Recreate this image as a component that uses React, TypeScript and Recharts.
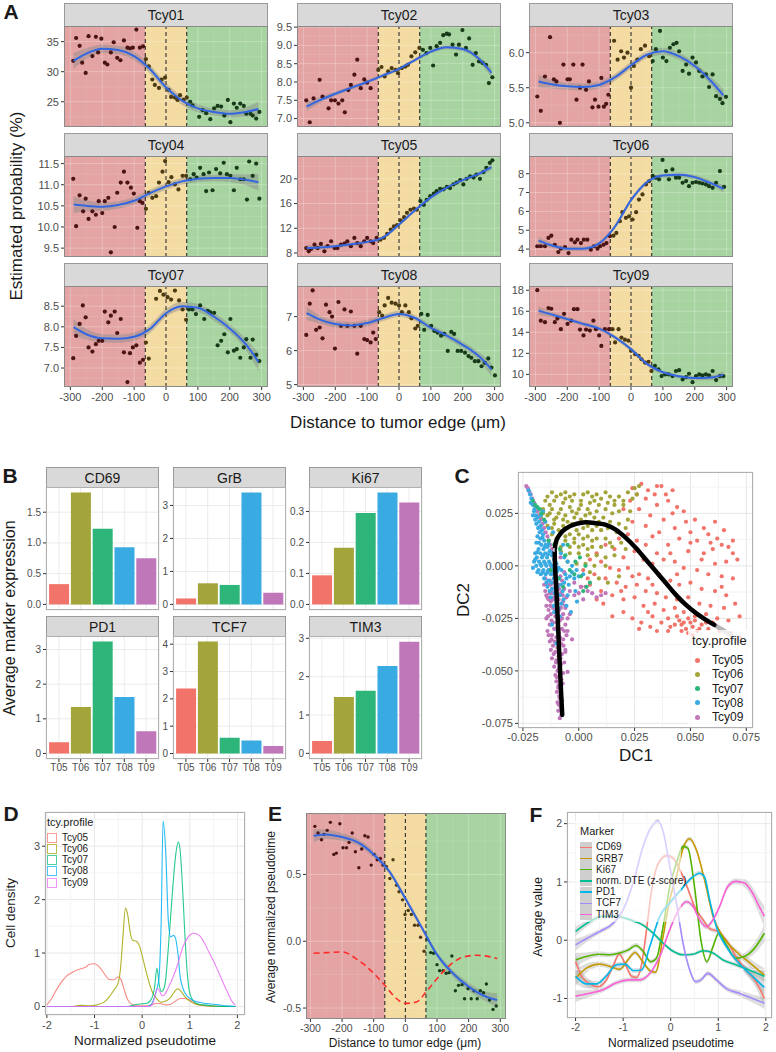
import React from "react";
import {
  ComposedChart,
  BarChart,
  Bar,
  Cell,
  Scatter,
  Line,
  Area,
  XAxis,
  YAxis,
  CartesianGrid,
  ReferenceArea,
  ReferenceLine,
} from "recharts";

type Pair = [number, number];
type Knot = [number, number, number];

const FONT = '"Liberation Sans", Arial, Helvetica, sans-serif';
const TICK = "#4d4d4d";
const BORDER = "#9a9a9a";
const HUE5 = ["#F8766D", "#A3A500", "#00BF7D", "#00B0F6", "#E76BF3"];
const MUTED5 = ["#F2736A", "#A3A43A", "#2DB57A", "#3AABE2", "#C077BA"];

// ---------- A: estimated probability vs distance ----------
const distanceTicks = [-300, -200, -100, 0, 100, 200, 300];
const fitDistances = [-290, -250, -200, -150, -100, -50, 0, 50, 100, 150, 200, 250, 290];

const tcy01Points: Pair[] = [[-291,31.8],[-282,35.6],[-271,34.3],[-263,31.5],[-252,29.8],[-243,35.9],[-231,32.6],[-220,35.8],[-213,33.2],[-203,35.5],[-192,31.5],[-184,31.2],[-173,33.2],[-164,34.9],[-153,32.3],[-143,31.9],[-132,35.2],[-121,34.0],[-113,33.9],[-104,34.0],[-93,37.0],[-82,34.0],[-72,34.2],[-63,32.1],[-54,30.9],[-43,28.7],[-35,27.8],[-22,27.3],[-14,28.7],[-3,29.0],[8,27.0],[16,25.8],[28,25.7],[36,25.3],[44,26.1],[55,25.3],[65,25.7],[76,25.0],[83,24.4],[104,22.5],[115,23.6],[126,23.1],[139,22.1],[151,23.9],[162,24.3],[173,24.2],[183,22.7],[194,25.3],[202,21.6],[213,24.7],[222,24.0],[233,24.7],[244,24.3],[252,23.0],[265,23.0],[272,22.7],[283,22.2],[293,23.3]];
const tcy01Fit = [31.8, 33.0, 33.8, 33.6, 32.6, 30.4, 27.4, 25.2, 23.9, 23.3, 23.0, 23.3, 23.8];
const tcy01Se = [1.3, 0.9, 0.7, 0.7, 0.7, 0.7, 0.7, 0.7, 0.7, 0.6, 0.6, 0.8, 1.2];

const tcy02Points: Pair[] = [[-291,7.5],[-280,6.9],[-268,7.55],[-249,8.06],[-240,7.6],[-221,7.28],[-213,7.5],[-201,7.5],[-190,7.41],[-178,7.5],[-170,7.17],[-159,7.78],[-151,7.92],[-140,8.2],[-131,8.61],[-120,7.83],[-109,8.07],[-100,7.98],[-89,7.83],[-65,8.33],[-55,8.41],[-45,8.15],[-34,8.29],[-23,8.38],[-11,8.33],[-3,8.24],[9,8.38],[20,8.42],[28,8.47],[39,8.7],[51,8.81],[64,8.93],[75,8.88],[86,8.79],[98,8.93],[107,8.45],[118,8.98],[129,9.07],[139,9.28],[150,9.32],[157,9.3],[168,9.02],[179,8.75],[188,9.02],[199,9.42],[210,8.93],[220,9.19],[231,8.47],[241,8.79],[251,8.56],[262,8.52],[273,8.47],[282,7.97],[293,8.13]];
const tcy02Fit = [7.33, 7.5, 7.68, 7.84, 8.0, 8.18, 8.36, 8.6, 8.83, 8.95, 8.9, 8.64, 8.25];
const tcy02Se = [0.12, 0.08, 0.06, 0.06, 0.05, 0.05, 0.05, 0.05, 0.05, 0.06, 0.06, 0.08, 0.13];

const tcy03Points: Pair[] = [[-294,5.375],[-283,5.17],[-270,5.66],[-254,6.22],[-242,5.62],[-234,5.59],[-223,5.0],[-212,5.83],[-199,5.62],[-192,5.62],[-181,5.83],[-171,5.33],[-160,5.5],[-152,5.83],[-141,5.47],[-132,5.59],[-121,5.22],[-113,5.33],[-102,5.23],[-93,5.64],[-85,5.23],[-78,5.27],[-71,5.4],[-53,6.17],[-42,5.9],[-31,6.02],[-22,5.93],[-11,6.0],[0,5.5],[9,5.81],[20,5.9],[31,6.05],[44,6.1],[57,5.95],[68,5.88],[78,6.05],[91,6.31],[100,5.93],[111,5.88],[122,6.07],[133,6.12],[143,6.14],[151,6.02],[162,5.74],[173,5.83],[182,5.7],[193,5.93],[204,5.86],[214,5.74],[224,5.66],[235,5.69],[245,5.51],[256,5.69],[267,5.38],[279,5.34],[287,5.28],[298,5.37]];
const tcy03Fit = [5.59, 5.55, 5.52, 5.51, 5.54, 5.65, 5.82, 5.97, 6.02, 5.95, 5.81, 5.6, 5.39];
const tcy03Se = [0.09, 0.06, 0.05, 0.05, 0.05, 0.05, 0.05, 0.05, 0.05, 0.05, 0.05, 0.06, 0.09];

const tcy04Points: Pair[] = [[-291,11.14],[-282,10.02],[-271,10.75],[-260,10.37],[-252,10.67],[-243,10.19],[-231,10.37],[-220,10.29],[-211,10.61],[-200,10.33],[-192,10.61],[-181,10.69],[-173,9.4],[-161,10.0],[-153,10.81],[-142,11.05],[-132,11.31],[-121,11.05],[-110,10.93],[-101,10.79],[-90,9.98],[-82,10.61],[-74,10.57],[-63,10.43],[-54,10.81],[-43,10.69],[-31,10.73],[-22,11.05],[-11,11.31],[-3,11.56],[8,11.06],[17,11.18],[28,11.01],[39,10.89],[52,11.21],[63,11.21],[76,11.13],[87,11.25],[96,11.17],[107,11.4],[118,11.25],[126,10.85],[135,11.29],[146,10.87],[157,11.37],[170,11.27],[181,11.52],[191,11.25],[202,11.21],[213,10.87],[222,11.4],[233,11.13],[244,11.13],[254,10.65],[261,11.55],[272,11.21],[283,11.5],[293,10.67]];
const tcy04Fit = [10.53, 10.5, 10.48, 10.52, 10.62, 10.8, 10.96, 11.08, 11.14, 11.16, 11.16, 11.12, 11.06];
const tcy04Se = [0.2, 0.13, 0.1, 0.09, 0.09, 0.08, 0.08, 0.08, 0.08, 0.08, 0.1, 0.13, 0.2];

const tcy05Points: Pair[] = [[-291,8.8],[-283,8.27],[-276,8.65],[-265,9.35],[-255,8.8],[-245,9.46],[-234,8.27],[-224,9.1],[-213,9.9],[-202,8.8],[-193,8.8],[-182,9.35],[-171,9.5],[-162,9.9],[-151,9.1],[-140,10.43],[-131,9.6],[-120,9.1],[-109,9.9],[-100,10.43],[-89,9.9],[-81,9.6],[-70,10.43],[-58,10.16],[-47,10.43],[-37,11.1],[-26,11.8],[-16,12.3],[-6,12.5],[5,13.3],[16,13.8],[25,14.5],[36,15.0],[47,15.2],[56,15.0],[67,16.4],[78,15.8],[87,16.6],[98,17.2],[109,17.6],[118,18.0],[129,18.4],[140,18.3],[150,18.7],[160,18.5],[171,19.1],[181,19.4],[192,19.8],[202,19.1],[212,20.0],[223,20.4],[234,20.2],[243,20.7],[254,20.0],[265,21.1],[274,21.8],[285,22.6],[293,23.0]];
const tcy05Fit = [8.8, 8.9, 9.1, 9.4, 9.8, 10.5, 12.6, 14.9, 17.0, 18.6, 19.8, 20.8, 21.9];
const tcy05Se = [0.5, 0.35, 0.3, 0.3, 0.3, 0.3, 0.3, 0.3, 0.3, 0.3, 0.3, 0.35, 0.5];

const tcy06Points: Pair[] = [[-294,4.15],[-283,4.15],[-270,4.15],[-259,4.59],[-250,4.71],[-239,4.23],[-228,3.84],[-220,4.02],[-207,4.11],[-196,3.79],[-187,4.5],[-176,4.36],[-168,4.5],[-157,4.32],[-148,4.5],[-137,4.5],[-126,3.97],[-116,4.15],[-105,4.02],[-97,4.15],[-86,4.23],[-77,4.32],[-66,4.68],[-55,4.71],[-46,4.86],[-35,5.48],[-27,5.96],[-16,5.66],[-6,5.74],[5,5.57],[16,5.96],[25,6.63],[36,6.9],[47,7.43],[57,7.6],[68,7.88],[78,7.79],[88,7.7],[99,8.73],[110,8.14],[119,7.7],[130,8.23],[141,7.79],[151,7.79],[162,7.52],[173,7.61],[182,7.34],[193,7.52],[204,7.56],[214,7.52],[224,7.48],[235,7.43],[245,7.34],[256,7.25],[267,7.52],[279,8.14],[292,7.3]];
const tcy06Fit = [4.45, 4.2, 4.02, 4.02, 4.3, 5.2, 6.6, 7.55, 7.9, 7.95, 7.82, 7.5, 7.2];
const tcy06Se = [0.2, 0.13, 0.12, 0.12, 0.12, 0.12, 0.12, 0.12, 0.12, 0.12, 0.12, 0.13, 0.2];

const tcy07Points: Pair[] = [[-291,7.24],[-282,7.78],[-271,8.07],[-261,8.52],[-252,8.23],[-243,7.5],[-231,7.4],[-220,7.58],[-211,7.66],[-200,7.66],[-192,8.37],[-181,8.11],[-173,8.27],[-161,8.37],[-153,7.85],[-142,8.19],[-132,7.38],[-121,6.66],[-113,7.36],[-104,7.5],[-93,7.55],[-82,7.13],[-72,7.2],[-63,7.62],[-54,7.23],[-31,8.68],[-19,8.87],[-8,8.78],[5,8.72],[16,8.66],[28,8.88],[41,8.64],[52,8.42],[63,8.17],[72,8.42],[83,8.42],[94,8.31],[107,8.52],[120,8.19],[131,8.39],[139,8.35],[151,8.34],[162,7.55],[173,7.66],[183,7.82],[194,7.38],[202,8.19],[213,7.42],[222,7.46],[233,7.25],[244,7.5],[252,7.7],[265,7.25],[272,7.69],[283,7.32],[293,7.17]];
const tcy07Fit = [7.99, 7.82, 7.72, 7.71, 7.76, 7.95, 8.33, 8.5, 8.46, 8.25, 7.96, 7.58, 7.15];
const tcy07Se = [0.2, 0.13, 0.1, 0.1, 0.1, 0.1, 0.1, 0.1, 0.1, 0.1, 0.1, 0.13, 0.22];

const tcy08Points: Pair[] = [[-291,6.46],[-280,7.38],[-271,7.77],[-260,6.61],[-249,6.68],[-240,6.36],[-229,7.35],[-218,7.13],[-210,7.0],[-201,6.06],[-190,7.43],[-182,6.73],[-171,7.21],[-162,6.73],[-151,7.15],[-140,6.73],[-131,5.91],[-120,6.73],[-109,6.34],[-100,6.31],[-89,6.24],[-81,6.53],[-73,6.34],[-62,7.13],[-53,7.03],[-45,7.33],[-34,7.55],[-23,7.41],[-11,7.38],[0,7.33],[9,7.13],[20,7.33],[31,7.13],[39,6.95],[51,6.65],[59,6.73],[70,7.08],[79,6.61],[90,7.05],[101,6.73],[111,6.58],[121,6.53],[132,6.44],[142,6.49],[153,5.99],[164,6.55],[173,6.49],[184,5.99],[195,5.99],[207,5.94],[218,5.84],[227,5.79],[238,5.69],[249,5.69],[259,5.54],[269,5.64],[280,5.77],[290,5.5],[301,5.27]];
const tcy08Fit = [7.1, 6.92, 6.78, 6.74, 6.81, 6.96, 7.08, 6.96, 6.67, 6.44, 6.17, 5.84, 5.45];
const tcy08Se = [0.2, 0.12, 0.1, 0.1, 0.1, 0.09, 0.09, 0.09, 0.09, 0.09, 0.1, 0.12, 0.2];

const tcy09Points: Pair[] = [[-294,18.0],[-283,15.1],[-270,14.96],[-259,16.3],[-250,16.24],[-239,14.96],[-231,15.3],[-220,14.3],[-210,15.76],[-199,14.8],[-188,15.1],[-179,16.2],[-168,16.2],[-160,14.26],[-149,13.7],[-141,14.26],[-129,14.16],[-118,15.1],[-110,14.3],[-100,13.7],[-93,12.7],[-82,14.3],[-69,14.3],[-58,14.3],[-50,13.04],[-39,14.3],[-30,13.5],[-19,13.3],[-8,13.2],[0,12.24],[13,11.92],[24,11.76],[33,11.44],[44,11.12],[55,11.2],[64,10.32],[75,10.8],[86,10.48],[96,9.84],[107,10.0],[118,10.0],[130,9.84],[141,10.32],[151,10.4],[162,9.52],[173,9.74],[182,10.06],[193,9.26],[204,9.84],[214,10.0],[224,9.9],[235,10.0],[245,9.9],[256,10.32],[267,9.46],[279,9.84],[290,9.84]];
const tcy09Fit = [16.05, 15.7, 15.25, 14.8, 14.35, 13.52, 12.4, 11.0, 10.2, 9.82, 9.65, 9.7, 9.95];
const tcy09Se = [0.4, 0.25, 0.2, 0.2, 0.2, 0.2, 0.2, 0.2, 0.2, 0.2, 0.2, 0.25, 0.35];

// ---------- B: average marker expression ----------
const profiles = ["T05", "T06", "T07", "T08", "T09"];
const cd69Values = [0.33, 1.82, 1.23, 0.93, 0.75];
const grbValues = [0.18, 0.64, 0.59, 3.39, 0.35];
const ki67Values = [0.094, 0.183, 0.295, 0.361, 0.329];
const pd1Values = [0.32, 1.34, 3.23, 1.63, 0.64];
const tcf7Values = [2.38, 4.1, 0.58, 0.48, 0.28];
const tim3Values = [0.32, 1.47, 1.63, 2.28, 2.91];

// ---------- C: diffusion map ----------
const c05: Pair[] = [[0.028,0.039],[0.035,0.038],[0.037,0.038],[0.031,0.036],[0.026,0.034],[0.039,0.034],[0.023,0.031],[0.030,0.032],[0.040,0.031],[0.044,0.028],[0.035,0.029],[0.020,0.027],[0.027,0.027],[0.047,0.026],[0.042,0.025],[0.032,0.024],[0.052,0.022],[0.038,0.022],[0.048,0.021],[0.024,0.021],[0.056,0.018],[0.043,0.018],[0.030,0.019],[0.058,0.015],[0.050,0.016],[0.036,0.016],[0.062,0.013],[0.053,0.012],[0.045,0.013],[0.064,0.010],[0.067,0.009],[0.060,0.008],[0.040,0.010],[0.056,0.006],[0.069,0.006],[0.049,0.007],[0.071,0.003],[0.066,0.002],[0.061,0.001],[0.035,0.006],[0.012,0.010],[0.016,0.008],[0.020,0.004],[0.025,0.007],[0.029,0.003],[0.033,0.001],[0.038,0.003],[0.043,0.002],[0.047,-0.001],[0.053,-0.002],[0.058,-0.004],[0.064,-0.005],[0.069,-0.006],[0.010,0.002],[0.014,-0.001],[0.018,-0.002],[0.022,-0.001],[0.027,-0.004],[0.031,-0.006],[0.036,-0.004],[0.041,-0.007],[0.045,-0.009],[0.050,-0.008],[0.055,-0.011],[0.061,-0.012],[0.066,-0.014],[0.007,-0.004],[0.012,-0.006],[0.017,-0.008],[0.021,-0.010],[0.026,-0.009],[0.030,-0.012],[0.035,-0.013],[0.039,-0.015],[0.044,-0.016],[0.049,-0.015],[0.054,-0.018],[0.059,-0.019],[0.065,-0.020],[0.070,-0.018],[0.005,-0.009],[0.010,-0.012],[0.015,-0.014],[0.020,-0.016],[0.025,-0.015],[0.029,-0.019],[0.034,-0.018],[0.038,-0.021],[0.043,-0.020],[0.047,-0.022],[0.052,-0.024],[0.057,-0.023],[0.062,-0.025],[0.067,-0.026],[0.072,-0.024],[0.015,-0.024],[0.020,-0.022],[0.024,-0.025],[0.028,-0.027],[0.033,-0.024],[0.037,-0.027],[0.041,-0.029],[0.045,-0.026],[0.046,-0.028],[0.048,-0.030],[0.050,-0.027],[0.051,-0.029],[0.049,-0.025],[0.053,-0.031],[0.055,-0.028],[0.058,-0.030],[0.063,-0.031],[0.068,-0.032],[0.072,-0.034],[0.040,-0.031],[0.035,-0.031],[0.027,-0.030],[0.032,-0.029],[0.044,-0.024],[0.060,-0.027],[0.002,-0.002],[0.005,0.003],[0.008,0.006],[0.004,-0.006],[0.001,-0.010],[0.011,-0.018],[0.008,-0.016],[0.018,0.013],[0.022,0.015],[0.026,0.012],[0.030,0.010],[0.033,0.014],[0.046,-0.031],[0.049,-0.032],[0.052,-0.026],[0.047,-0.027],[0.054,-0.030],[0.043,-0.028],[0.057,-0.027],[0.051,-0.033],[0.044,-0.004],[0.041,0.006],[0.055,0.003],[0.050,0.011],[0.064,-0.010],[0.059,0.011],[0.033,-0.009],[0.024,-0.005],[0.019,-0.012],[0.040,-0.025],[0.031,-0.022],[0.069,0.012],[0.065,0.017],[0.061,0.021],[0.034,0.034],[0.042,0.036],[0.024,0.037]];
const c06: Pair[] = [[-0.012,0.035],[-0.008,0.034],[-0.004,0.033],[0.002,0.034],[0.006,0.033],[0.010,0.032],[0.014,0.033],[0.018,0.033],[0.022,0.035],[0.025,0.037],[0.027,0.038],[0.020,0.031],[-0.015,0.031],[-0.011,0.031],[-0.007,0.030],[-0.003,0.031],[0.001,0.031],[0.005,0.030],[0.009,0.029],[0.013,0.030],[0.016,0.029],[0.012,0.027],[0.024,0.032],[0.018,0.026],[0.026,0.034],[-0.016,0.027],[-0.012,0.027],[-0.008,0.027],[-0.004,0.028],[0.000,0.027],[0.004,0.027],[0.008,0.026],[0.015,0.025],[-0.017,0.023],[-0.014,0.024],[-0.010,0.023],[-0.006,0.024],[-0.002,0.023],[0.003,0.024],[0.007,0.023],[0.011,0.023],[0.014,0.021],[-0.014,0.019],[-0.011,0.020],[-0.007,0.019],[-0.003,0.020],[0.002,0.018],[0.006,0.017],[0.010,0.017],[0.017,0.016],[0.021,0.018],[-0.012,0.015],[-0.008,0.016],[-0.004,0.015],[0.000,0.015],[0.004,0.014],[0.008,0.013],[0.012,0.013],[0.019,0.011],[0.015,0.009],[-0.010,0.011],[-0.006,0.012],[-0.002,0.011],[0.002,0.010],[0.006,0.009],[0.010,0.009],[0.021,0.008],[-0.008,0.007],[-0.004,0.006],[0.000,0.006],[0.004,0.005],[0.008,0.005],[0.012,0.004],[0.016,0.005],[-0.005,0.002],[-0.001,0.001],[0.003,0.001],[0.007,0.000],[0.012,0.000],[0.005,-0.003],[0.009,-0.006],[0.013,-0.008],[0.018,-0.005],[-0.013,0.029],[-0.009,0.025],[-0.005,0.021],[-0.001,0.025],[0.003,0.021],[-0.015,0.021],[0.001,0.029],[0.007,0.031],[-0.006,0.032],[0.011,0.020],[-0.014,0.033],[-0.010,0.033],[-0.006,0.035],[-0.002,0.034],[0.004,0.035],[0.008,0.034],[0.012,0.035],[0.016,0.031],[-0.016,0.025],[-0.013,0.025],[-0.011,0.022],[-0.007,0.022],[-0.003,0.026],[0.001,0.022],[0.005,0.025],[0.009,0.021],[0.013,0.018],[-0.012,0.018],[-0.009,0.017],[-0.005,0.018],[-0.001,0.017],[0.004,0.019],[0.008,0.019],[-0.010,0.013],[-0.006,0.014],[-0.002,0.013],[0.002,0.013],[0.006,0.012],[-0.008,0.009],[-0.004,0.009],[0.000,0.009],[0.004,0.008],[0.014,0.011],[0.018,0.020],[0.022,0.022],[0.020,0.029],[0.023,0.026]];
const c07: Pair[] = [[-0.0205,0.031],[-0.0195,0.029],[-0.0185,0.028],[-0.0175,0.027],[-0.0168,0.025],[-0.0155,0.022],[-0.0135,0.012],[-0.011,0.010],[-0.0085,0.008],[-0.006,0.005],[-0.004,-0.002],[-0.002,-0.004],[0.001,-0.005],[0.002,-0.012],[0.0035,-0.010],[-0.007,-0.010],[-0.009,-0.006],[0.005,-0.008],[-0.005,0.010],[-0.0015,0.002],[0.0005,0.004],[-0.0125,-0.002],[0.003,0.000]];
const c08: Pair[] = [[-0.0225,0.036],[-0.0218,0.034],[-0.0212,0.032],[-0.0205,0.029],[-0.0198,0.027],[-0.0205,0.024],[-0.0195,0.022],[-0.0185,0.023],[-0.019,0.020],[-0.0178,0.021],[-0.0182,0.018],[-0.017,0.019],[-0.0175,0.016],[-0.0165,0.017],[-0.0185,0.014],[-0.016,0.015],[-0.0172,0.013],[-0.0155,0.012],[-0.019,0.011],[-0.0168,0.010],[-0.0148,0.010],[-0.018,0.008],[-0.0158,0.008],[-0.014,0.009],[-0.0195,0.006],[-0.0172,0.006],[-0.015,0.006],[-0.013,0.007],[-0.0188,0.004],[-0.0165,0.004],[-0.0142,0.004],[-0.012,0.005],[-0.02,0.002],[-0.0178,0.002],[-0.0155,0.002],[-0.0133,0.002],[-0.011,0.003],[-0.019,0.000],[-0.0168,0.000],[-0.0145,0.000],[-0.0122,0.000],[-0.01,0.001],[-0.0205,-0.001],[-0.018,-0.002],[-0.0158,-0.002],[-0.0135,-0.002],[-0.0112,-0.001],[-0.009,-0.001],[-0.017,-0.004],[-0.0148,-0.004],[-0.0125,-0.004],[-0.01,-0.003],[-0.0078,-0.002],[-0.006,-0.004],[-0.004,-0.005],[-0.002,-0.006],[0.0,-0.005],[-0.0155,-0.006],[-0.0135,-0.007],[-0.0112,-0.006],[-0.0088,-0.006],[-0.0065,-0.008],[-0.0045,-0.009],[-0.014,-0.010],[-0.0118,-0.011],[-0.0095,-0.010],[-0.0072,-0.012],[-0.005,-0.014],[-0.0125,-0.015],[-0.01,-0.017],[-0.0078,-0.018],[-0.0055,-0.019],[-0.0035,-0.022],[-0.011,-0.022],[-0.0085,-0.024],[-0.012,-0.028],[-0.0095,-0.031],[-0.01,-0.037],[-0.008,0.006],[-0.0065,0.004],[-0.005,0.002],[-0.003,0.000],[-0.007,0.010],[-0.0095,0.013],[-0.0115,0.016],[-0.0135,0.018],[-0.015,0.021],[-0.017,0.024],[-0.016,0.026],[-0.001,-0.002],[0.002,-0.004],[-0.0008,-0.017],[-0.0015,-0.012],[-0.0215,0.030],[-0.020,0.026],[-0.0192,0.024],[-0.0176,0.0185],[-0.0162,0.0135],[-0.0178,0.011],[-0.0152,0.009],[-0.0135,0.0105],[-0.0185,0.0065],[-0.016,0.005],[-0.0138,0.0055],[-0.0115,0.006],[-0.0195,0.003],[-0.0172,0.001],[-0.015,0.001],[-0.0128,0.001],[-0.0105,0.002],[-0.0185,-0.003],[-0.0162,-0.003],[-0.014,-0.003],[-0.0118,-0.003],[-0.0095,-0.002],[-0.0145,-0.008],[-0.0122,-0.008],[-0.010,-0.008],[-0.0078,-0.009],[-0.0055,-0.006],[-0.003,-0.003],[-0.013,-0.012],[-0.0108,-0.013],[-0.0085,-0.014],[-0.0112,-0.019],[-0.009,-0.020],[-0.0068,-0.016]];
const c09: Pair[] = [[-0.0085,-0.0725],[-0.0078,-0.071],[-0.0092,-0.069],[-0.0082,-0.067],[-0.0095,-0.065],[-0.0075,-0.064],[-0.0088,-0.062],[-0.0098,-0.06],[-0.008,-0.059],[-0.009,-0.057],[-0.0072,-0.056],[-0.01,-0.055],[-0.0085,-0.053],[-0.0105,-0.052],[-0.007,-0.051],[-0.0095,-0.05],[-0.011,-0.048],[-0.008,-0.047],[-0.0065,-0.046],[-0.01,-0.045],[-0.012,-0.044],[-0.009,-0.043],[-0.0075,-0.042],[-0.0105,-0.041],[-0.0125,-0.04],[-0.006,-0.04],[-0.0095,-0.039],[-0.0115,-0.038],[-0.008,-0.037],[-0.013,-0.036],[-0.007,-0.035],[-0.01,-0.034],[-0.012,-0.033],[-0.0055,-0.033],[-0.0088,-0.032],[-0.014,-0.031],[-0.011,-0.03],[-0.0075,-0.03],[-0.0095,-0.029],[-0.013,-0.028],[-0.006,-0.028],[-0.0115,-0.027],[-0.0085,-0.026],[-0.0145,-0.025],[-0.005,-0.025],[-0.0105,-0.024],[-0.0125,-0.023],[-0.007,-0.023],[-0.0095,-0.022],[-0.0135,-0.021],[-0.0115,-0.02],[-0.008,-0.02],[-0.006,-0.019],[-0.0145,-0.019],[-0.01,-0.018],[-0.0125,-0.017],[-0.007,-0.017],[-0.009,-0.016],[-0.014,-0.015],[-0.011,-0.015],[-0.0055,-0.015],[-0.013,-0.013],[-0.008,-0.013],[-0.01,-0.012],[-0.015,-0.012],[-0.012,-0.011],[-0.0065,-0.011],[-0.014,-0.009],[-0.009,-0.009],[-0.011,-0.008],[-0.013,-0.007],[-0.0075,-0.007],[-0.015,-0.006],[-0.01,-0.005],[-0.012,-0.004],[-0.004,-0.012],[-0.002,-0.014],[0.0,-0.013],[0.002,-0.016],[0.004,-0.012],[0.006,-0.013],[0.008,-0.015],[0.01,-0.014],[0.012,-0.013],[-0.006,-0.02],[-0.004,-0.023],[0.003,-0.01],[-0.005,-0.031],[-0.003,-0.035],[-0.006,-0.041],[-0.005,-0.0505],[-0.0235,0.038],[-0.0228,0.037],[-0.0222,0.0355],[-0.0215,0.034],[-0.0208,0.032],[-0.02,0.03],[-0.0192,0.028],[-0.0185,0.026],[-0.0178,0.024],[-0.017,0.022],[-0.0162,0.02],[-0.0155,0.018],[-0.0148,0.016],[-0.014,0.014],[-0.0135,0.012],[-0.0128,0.01],[-0.012,0.008],[-0.0115,0.006],[-0.011,0.003],[-0.0105,0.001],[-0.0125,0.0],[-0.0098,-0.002],[-0.0135,-0.002],[-0.0082,0.004],[-0.0065,-0.003],[-0.002,-0.008],[0.001,-0.01],[-0.0078,-0.068],[-0.009,-0.066],[-0.0085,-0.063],[-0.0092,-0.058],[-0.0078,-0.054],[-0.0098,-0.053],[-0.0088,-0.049],[-0.0102,-0.046],[-0.0082,-0.044],[-0.0112,-0.042],[-0.0068,-0.038],[-0.0108,-0.036],[-0.0122,-0.035],[-0.0085,-0.034],[-0.0135,-0.033],[-0.0065,-0.031],[-0.0098,-0.027],[-0.0122,-0.026],[-0.0075,-0.025],[-0.0138,-0.024],[-0.0088,-0.021],[-0.0105,-0.021],[-0.0128,-0.019],[-0.0075,-0.018],[-0.0115,-0.016],[-0.0135,-0.016],[-0.0095,-0.014],[-0.0118,-0.013],[-0.0145,-0.014],[-0.0072,-0.014],[-0.0088,-0.011],[-0.0125,-0.009],[-0.0105,-0.01],[-0.0155,-0.009],[-0.0082,-0.005]];
const cCurve: Pair[] = [[-0.0074,-0.071],[-0.0079,-0.0606],[-0.0086,-0.0448],[-0.0094,-0.0257],[-0.0101,-0.0098],[-0.0107,0.0029],[-0.0108,0.0076],[-0.0104,0.0108],[-0.0086,0.0148],[-0.0056,0.0179],[-0.0012,0.02],[0.0033,0.0208],[0.0078,0.0203],[0.0122,0.0195],[0.0167,0.0171],[0.0212,0.0132],[0.0257,0.0084],[0.0301,0.0029],[0.0346,-0.0027],[0.0391,-0.0083],[0.0435,-0.0138],[0.048,-0.0186],[0.0525,-0.0225],[0.0569,-0.0257],[0.0607,-0.0281]];
const cTail: Pair[] = [[0.0607,-0.0281],[0.0644,-0.0305],[0.0689,-0.0336],[0.0726,-0.036]];

// ---------- D: cell density ----------
const d05: Pair[] = [[-2,0.03],[-1.9,0.15],[-1.8,0.31],[-1.7,0.45],[-1.6,0.56],[-1.5,0.62],[-1.4,0.67],[-1.3,0.7],[-1.2,0.73],[-1.1,0.79],[-1.0,0.8],[-0.9,0.74],[-0.8,0.62],[-0.7,0.51],[-0.6,0.5],[-0.5,0.55],[-0.45,0.52],[-0.4,0.38],[-0.3,0.12],[-0.2,0.03],[-0.1,0.01],[0.1,0.01],[0.2,0.03],[0.3,0.06],[0.4,0.05],[0.5,0.03],[0.6,0.04],[0.7,0.1],[0.8,0.15],[0.9,0.15],[1.0,0.12],[1.1,0.06],[1.2,0.03],[1.4,0.01],[1.7,0.0],[1.96,0.0]];
const d06: Pair[] = [[-2,0.0],[-1.5,0.0],[-1.3,0.02],[-1.1,0.01],[-0.95,0.03],[-0.8,0.08],[-0.7,0.17],[-0.6,0.3],[-0.5,0.45],[-0.45,0.75],[-0.4,1.35],[-0.35,1.84],[-0.3,1.7],[-0.25,1.38],[-0.2,1.24],[-0.12,1.22],[-0.05,1.12],[0.0,0.95],[0.1,0.6],[0.2,0.3],[0.3,0.15],[0.4,0.08],[0.5,0.1],[0.6,0.17],[0.7,0.3],[0.75,0.33],[0.8,0.3],[0.9,0.18],[1.0,0.1],[1.1,0.05],[1.2,0.03],[1.4,0.01],[1.7,0.0],[1.96,0.0]];
const d07: Pair[] = [[-2,0],[-0.3,0],[-0.2,0.02],[-0.1,0.04],[0.0,0.05],[0.1,0.06],[0.2,0.15],[0.26,0.35],[0.31,0.72],[0.36,0.4],[0.4,0.28],[0.45,0.32],[0.5,0.55],[0.55,1.1],[0.6,1.7],[0.65,2.3],[0.7,2.8],[0.76,3.08],[0.8,2.9],[0.85,2.2],[0.9,1.3],[0.95,0.6],[1.0,0.25],[1.1,0.08],[1.2,0.04],[1.4,0.02],[1.6,0.0],[1.96,0.0]];
const d08: Pair[] = [[-2,0],[0.1,0],[0.2,0.05],[0.25,0.15],[0.3,0.3],[0.35,0.5],[0.4,1.6],[0.44,3.47],[0.5,2.8],[0.55,1.6],[0.6,1.3],[0.66,1.33],[0.7,1.28],[0.75,1.0],[0.8,0.55],[0.9,0.25],[1.0,0.15],[1.1,0.1],[1.2,0.08],[1.3,0.06],[1.4,0.05],[1.5,0.04],[1.6,0.03],[1.8,0.01],[1.96,0.0]];
const d09: Pair[] = [[-2,0],[0.15,0],[0.22,0.05],[0.27,0.2],[0.32,0.33],[0.37,0.28],[0.42,0.2],[0.47,0.22],[0.55,0.35],[0.65,0.55],[0.75,0.8],[0.85,1.1],[0.95,1.28],[1.08,1.37],[1.2,1.33],[1.3,1.2],[1.4,1.02],[1.5,0.85],[1.6,0.65],[1.7,0.45],[1.8,0.25],[1.9,0.08],[1.96,0.02]];

// ---------- E: pseudotime vs distance ----------
const ePoints: Pair[] = [[-286,0.86],[-276,0.81],[-265,0.76],[-257,0.80],[-247,0.83],[-237,0.89],[-226,0.65],[-218,0.66],[-207,0.88],[-197,0.70],[-186,0.70],[-178,0.74],[-168,0.81],[-158,0.67],[-147,0.55],[-138,0.69],[-128,0.79],[-118,0.78],[-108,0.57],[-99,0.65],[-89,0.61],[-79,0.62],[-71,0.57],[-60,0.56],[-49,0.47],[-39,0.61],[-28,0.42],[-20,0.37],[-9,0.31],[-1,0.20],[9,0.23],[19,0.20],[29,0.12],[40,0.12],[48,0.03],[59,-0.075],[69,0.015],[80,-0.085],[89,-0.09],[100,-0.175],[108,-0.22],[119,-0.22],[129,-0.24],[138,-0.235],[147,-0.11],[158,-0.37],[168,-0.33],[179,-0.325],[187,-0.43],[198,-0.355],[208,-0.43],[217,-0.37],[227,-0.43],[237,-0.37],[247,-0.385],[256,-0.32],[266,-0.44],[277,-0.51],[287,-0.485]];
const eFit = [0.79, 0.8, 0.78, 0.74, 0.65, 0.52, 0.32, 0.11, -0.1, -0.24, -0.34, -0.41, -0.44];
const eSe = [0.05, 0.035, 0.03, 0.025, 0.025, 0.02, 0.02, 0.02, 0.02, 0.025, 0.03, 0.035, 0.05];
const eDashed: Pair[] = [[-290,-0.09],[-250,-0.085],[-200,-0.08],[-150,-0.14],[-100,-0.24],[-65,-0.33],[-30,-0.425],[0,-0.465],[35,-0.455],[65,-0.38],[100,-0.28],[140,-0.18],[180,-0.12],[225,-0.105],[265,-0.115],[290,-0.13]];

// ---------- F: markers along pseudotime ----------
const markerNames = ["CD69", "GRB7", "Ki67", "norm. DTE (z-score)", "PD1", "TCF7", "TIM3"];
const markerColors = ["#F8766D", "#C49A00", "#53B400", "#00C094", "#00B6EB", "#A58AFF", "#FB61D7"];
const fCd69: Knot[] = [[-2,-0.37,0.14],[-1.87,-0.62,0.1],[-1.7,-0.75,0.07],[-1.54,-0.8,0.05],[-1.35,-0.68,0.04],[-1.2,-0.42,0.04],[-1.08,-0.24,0.04],[-0.95,-0.42,0.04],[-0.82,-0.62,0.04],[-0.72,-0.64,0.04],[-0.62,-0.45,0.04],[-0.52,0.1,0.04],[-0.4,0.86,0.04],[-0.27,1.3,0.04],[-0.09,1.45,0.04],[0.05,1.41,0.04],[0.19,1.21,0.04],[0.33,0.95,0.04],[0.5,0.58,0.04],[0.68,0.35,0.04],[0.82,0.2,0.04],[0.99,0.15,0.04],[1.17,0.0,0.04],[1.37,-0.28,0.05],[1.58,-0.51,0.07],[1.79,-0.71,0.1],[1.97,-1.0,0.16]];
const fGrb7: Knot[] = [[-2,-0.65,0.14],[-1.77,-0.48,0.08],[-1.49,-0.41,0.05],[-1.28,-0.45,0.04],[-1.07,-0.5,0.04],[-0.9,-0.34,0.04],[-0.75,-0.21,0.04],[-0.61,-0.34,0.04],[-0.44,-0.52,0.04],[-0.32,-0.55,0.04],[-0.16,0.06,0.04],[-0.02,0.69,0.04],[0.12,1.09,0.04],[0.26,1.58,0.04],[0.4,1.74,0.04],[0.54,1.55,0.04],[0.71,1.04,0.04],[0.89,0.41,0.04],[1.1,0.06,0.04],[1.37,-0.19,0.05],[1.65,-0.38,0.07],[1.97,-0.6,0.12]];
const fKi67: Knot[] = [[-2,-0.34,0.12],[-1.77,-0.28,0.07],[-1.52,-0.24,0.05],[-1.28,-0.25,0.04],[-1.07,-0.22,0.04],[-0.9,-0.17,0.04],[-0.73,-0.09,0.04],[-0.58,-0.19,0.04],[-0.42,-0.37,0.04],[-0.3,-0.31,0.04],[-0.16,0.23,0.04],[-0.02,0.92,0.04],[0.12,1.32,0.04],[0.26,1.61,0.04],[0.36,1.58,0.04],[0.5,0.92,0.04],[0.64,-0.02,0.04],[0.76,-0.37,0.04],[0.89,-0.11,0.04],[1.01,0.12,0.04],[1.17,-0.08,0.04],[1.37,-0.31,0.05],[1.55,-0.28,0.06],[1.76,-0.14,0.09],[1.97,0.12,0.15]];
const fDte: Knot[] = [[-2,0.15,0.08],[-1.7,0.32,0.05],[-1.42,0.41,0.04],[-1.14,0.41,0.03],[-0.86,0.35,0.03],[-0.58,0.26,0.03],[-0.37,0.12,0.03],[-0.16,-0.05,0.03],[0.05,-0.19,0.03],[0.26,-0.25,0.03],[0.47,-0.24,0.03],[0.68,-0.18,0.03],[0.89,-0.22,0.03],[1.1,-0.34,0.03],[1.37,-0.42,0.04],[1.65,-0.51,0.05],[1.97,-0.62,0.09]];
const fPd1: Knot[] = [[-2,-0.62,0.12],[-1.77,-0.75,0.08],[-1.56,-0.75,0.05],[-1.35,-0.61,0.04],[-1.14,-0.42,0.04],[-0.96,-0.41,0.04],[-0.79,-0.52,0.04],[-0.61,-0.51,0.04],[-0.44,-0.11,0.04],[-0.23,0.41,0.04],[-0.02,0.64,0.04],[0.19,0.84,0.04],[0.4,1.04,0.04],[0.61,1.15,0.04],[0.71,1.09,0.04],[0.82,0.69,0.04],[0.96,0.23,0.04],[1.17,-0.11,0.04],[1.44,-0.4,0.05],[1.72,-0.62,0.08],[1.97,-0.81,0.13]];
const fTcf7: Knot[] = [[-2,-0.08,0.1],[-1.77,0.03,0.06],[-1.49,0.15,0.04],[-1.21,0.29,0.04],[-1.0,0.52,0.04],[-0.79,0.98,0.04],[-0.58,1.61,0.04],[-0.4,1.95,0.04],[-0.27,2.04,0.04],[-0.16,1.87,0.04],[-0.02,1.27,0.04],[0.12,0.64,0.04],[0.26,-0.05,0.04],[0.4,-0.51,0.04],[0.52,-0.71,0.04],[0.64,-0.68,0.04],[0.78,-0.57,0.04],[0.96,-0.68,0.04],[1.17,-0.83,0.04],[1.44,-0.91,0.05],[1.72,-1.0,0.07],[1.97,-1.08,0.1]];
const fTim3: Knot[] = [[-2,-0.96,0.1],[-1.7,-0.91,0.06],[-1.42,-0.85,0.04],[-1.14,-0.73,0.04],[-0.86,-0.68,0.04],[-0.65,-0.68,0.04],[-0.44,-0.57,0.04],[-0.23,-0.28,0.04],[-0.02,0.18,0.04],[0.19,0.55,0.04],[0.33,0.66,0.04],[0.47,0.58,0.04],[0.61,0.35,0.04],[0.75,0.23,0.04],[0.89,0.35,0.04],[1.03,0.58,0.04],[1.2,0.92,0.05],[1.37,1.01,0.05],[1.55,0.98,0.07],[1.72,0.81,0.1],[1.86,0.58,0.14],[1.97,0.41,0.18]];

// ---------- helpers ----------
const toXY = (p: Pair[]) => p.map(([x, y]) => ({ x, y }));
const toBand = (k: Knot[]) => k.map(([x, y, s]) => ({ x, y, band: [y - s, y + s] }));
const dot = (r: number, fill: string) => (props: any) =>
  <circle cx={props.cx} cy={props.cy} r={r} fill={fill} />;
// extra room around each plot so edge tick labels are not clipped
const PAD = 8;
const PAD_R = 14;
const tickStyle = (size: number) => ({ fontSize: size, fill: TICK, fontFamily: FONT });

const Txt = ({ x, y, size, children, rotate, bold, start, color }: any) => (
  <div
    style={{
      position: "absolute",
      left: x,
      top: y,
      transform: `translate(${start ? "0" : "-50%"}, -50%)${rotate ? " rotate(-90deg)" : ""}`,
      fontSize: size,
      fontWeight: bold ? 700 : 400,
      color: color || "#1a1a1a",
      whiteSpace: "nowrap",
      lineHeight: 1,
      fontFamily: FONT,
    }}
  >
    {children}
  </div>
);

const Box = ({ left, top, width, height, fill, border }: any) => (
  <div
    style={{
      position: "absolute",
      left,
      top,
      width,
      height,
      boxSizing: "border-box",
      border: `1px solid ${border || BORDER}`,
      background: fill || "transparent",
      pointerEvents: "none",
    }}
  />
);

const Strip = ({ left, top, width, height, label }: any) => (
  <div
    style={{
      position: "absolute",
      left,
      top,
      width,
      height,
      boxSizing: "border-box",
      border: `1px solid ${BORDER}`,
      background: "#d9d9d9",
      display: "flex",
      alignItems: "center",
      justifyContent: "center",
      fontSize: 14,
      fontFamily: FONT,
      color: "#1a1a1a",
    }}
  >
    {label}
  </div>
);

const RED_ZONE = "#E3A4A3";
const YEL_ZONE = "#F4DBA1";
const GRN_ZONE = "#A7D4A0";
const EDGE = 65;

interface DistProps {
  left: number;
  top: number;
  width: number;
  height: number;
  pts: Pair[];
  fit: number[];
  se: number[];
  yDomain: [number, number];
  yTicks: number[];
  dec: number;
  xDomain: [number, number];
  showX: boolean;
  r: number;
  font: number;
  yWidth: number;
  dashed?: Pair[];
}

const DistPanel = (p: DistProps) => {
  const xh = p.showX ? 22 : 0;
  const padB = p.showX ? 0 : PAD;
  const pts = toXY(p.pts);
  const fitRows = fitDistances.map((x, i) => ({
    x,
    y: p.fit[i],
    band: [p.fit[i] - p.se[i], p.fit[i] + p.se[i]],
  }));
  const [x0, x1] = p.xDomain;
  const step = p.yTicks[1] - p.yTicks[0];
  const minorY = [p.yTicks[0] - step / 2, ...p.yTicks.map((t) => t + step / 2)];
  const vLines = [-300, -250, -200, -150, -100, -50, 0, 50, 100, 150, 200, 250, 300];
  return (
    <div style={{ position: "absolute", left: p.left - p.yWidth, top: p.top - PAD }}>
      <ComposedChart
        width={p.width + p.yWidth + PAD_R}
        height={p.height + xh + PAD + padB}
        margin={{ top: PAD, right: PAD_R, bottom: padB, left: 0 }}
      >
        <XAxis
          type="number"
          dataKey="x"
          domain={p.xDomain}
          ticks={distanceTicks}
          allowDataOverflow
          interval={0}
          hide={!p.showX}
          height={xh}
          axisLine={false}
          tickSize={3}
          tickMargin={3}
          tick={tickStyle(p.font)}
          tickLine={{ stroke: "#333" }}
        />
        <YAxis
          type="number"
          domain={p.yDomain}
          ticks={p.yTicks}
          allowDataOverflow
          interval={0}
          width={p.yWidth}
          axisLine={false}
          tickSize={3}
          tickMargin={2}
          tick={tickStyle(p.font)}
          tickLine={{ stroke: "#333" }}
          tickFormatter={(v: number) => v.toFixed(p.dec)}
        />
        <ReferenceArea x1={x0} x2={-EDGE} fill={RED_ZONE} fillOpacity={1} stroke="none" ifOverflow="hidden" />
        <ReferenceArea x1={-EDGE} x2={EDGE} fill={YEL_ZONE} fillOpacity={1} stroke="none" ifOverflow="hidden" />
        <ReferenceArea x1={EDGE} x2={x1} fill={GRN_ZONE} fillOpacity={1} stroke="none" ifOverflow="hidden" />
        {vLines.map((v) => (
          <ReferenceLine key={"v" + v} x={v} stroke="#ffffff" strokeOpacity={v % 100 === 0 ? 0.3 : 0.18} strokeWidth={v % 100 === 0 ? 0.9 : 0.6} />
        ))}
        {p.yTicks.map((v) => (
          <ReferenceLine key={"h" + v} y={v} stroke="#ffffff" strokeOpacity={0.3} strokeWidth={0.9} />
        ))}
        {minorY.map((v) => (
          <ReferenceLine key={"m" + v} y={v} stroke="#ffffff" strokeOpacity={0.18} strokeWidth={0.6} ifOverflow="hidden" />
        ))}
        <Area data={fitRows} dataKey="band" type="monotone" stroke="none" fill="#8a8a8a" fillOpacity={0.45} isAnimationActive={false} />
        {[-EDGE, 0, EDGE].map((v) => (
          <ReferenceLine key={"d" + v} x={v} stroke="#1a1a1a" strokeDasharray="4 3" strokeWidth={1} />
        ))}
        <Scatter data={pts.filter((d) => d.x < -EDGE)} dataKey="y" shape={dot(p.r, "#4A1414")} isAnimationActive={false} />
        <Scatter data={pts.filter((d) => d.x >= -EDGE && d.x <= EDGE)} dataKey="y" shape={dot(p.r, "#4B3A12")} isAnimationActive={false} />
        <Scatter data={pts.filter((d) => d.x > EDGE)} dataKey="y" shape={dot(p.r, "#173A18")} isAnimationActive={false} />
        {p.dashed && (
          <Line data={toXY(p.dashed)} dataKey="y" type="monotone" stroke="#FF2A2A" strokeWidth={1.6} strokeDasharray="6 4" dot={false} isAnimationActive={false} zIndex={900} />
        )}
        <Line data={fitRows} dataKey="y" type="monotone" stroke="#3366E0" strokeWidth={2} dot={false} isAnimationActive={false} zIndex={900} />
      </ComposedChart>
    </div>
  );
};

const aFacets = [
  { name: "Tcy01", pts: tcy01Points, fit: tcy01Fit, se: tcy01Se, dom: [20.8, 37.6], ticks: [25, 30, 35], dec: 0 },
  { name: "Tcy02", pts: tcy02Points, fit: tcy02Fit, se: tcy02Se, dom: [6.77, 9.53], ticks: [7, 7.5, 8, 8.5, 9, 9.5], dec: 1 },
  { name: "Tcy03", pts: tcy03Points, fit: tcy03Fit, se: tcy03Se, dom: [4.94, 6.38], ticks: [5, 5.5, 6], dec: 1 },
  { name: "Tcy04", pts: tcy04Points, fit: tcy04Fit, se: tcy04Se, dom: [9.29, 11.68], ticks: [9.5, 10, 10.5, 11, 11.5], dec: 1 },
  { name: "Tcy05", pts: tcy05Points, fit: tcy05Fit, se: tcy05Se, dom: [7.35, 23.7], ticks: [8, 12, 16, 20], dec: 0 },
  { name: "Tcy06", pts: tcy06Points, fit: tcy06Fit, se: tcy06Se, dom: [3.58, 8.94], ticks: [4, 5, 6, 7, 8], dec: 0 },
  { name: "Tcy07", pts: tcy07Points, fit: tcy07Fit, se: tcy07Se, dom: [6.54, 8.99], ticks: [7, 7.5, 8, 8.5], dec: 1 },
  { name: "Tcy08", pts: tcy08Points, fit: tcy08Fit, se: tcy08Se, dom: [4.93, 7.9], ticks: [5, 6, 7], dec: 0 },
  { name: "Tcy09", pts: tcy09Points, fit: tcy09Fit, se: tcy09Se, dom: [8.8, 18.4], ticks: [10, 12, 14, 16, 18], dec: 0 },
];
const aCols = [64, 297, 529];
const aRows = [3, 133, 263];
const A_STRIP = 23;
const A_W = 204;
const A_H = 101;

const bFacets = [
  { name: "CD69", values: cd69Values, dom: [-0.091, 1.91], ticks: [0, 0.5, 1, 1.5], dec: 1 },
  { name: "GrB", values: grbValues, dom: [-0.17, 3.56], ticks: [0, 1, 2, 3], dec: 0 },
  { name: "Ki67", values: ki67Values, dom: [-0.018, 0.379], ticks: [0, 0.1, 0.2, 0.3], dec: 1 },
  { name: "PD1", values: pd1Values, dom: [-0.16, 3.39], ticks: [0, 1, 2, 3], dec: 0 },
  { name: "TCF7", values: tcf7Values, dom: [-0.2, 4.3], ticks: [0, 1, 2, 3, 4], dec: 0 },
  { name: "TIM3", values: tim3Values, dom: [-0.146, 3.06], ticks: [0, 1, 2, 3], dec: 0 },
];
const bCols = [46, 173, 309];
const bRows = [467, 616];
const B_STRIP = 20;
const B_W = 113;
const B_H = 123;

const BarPanel = ({ left, top, values, dom, ticks, dec, showX }: any) => {
  const xh = showX ? 20 : 0;
  const padB = showX ? 0 : PAD;
  const yW = 26;
  const rows = profiles.map((cat, i) => ({ cat, v: values[i] }));
  return (
    <div style={{ position: "absolute", left: left - yW, top: top - PAD }}>
      <BarChart
        width={B_W + yW + PAD_R}
        height={B_H + xh + PAD + padB}
        data={rows}
        margin={{ top: PAD, right: PAD_R, bottom: padB, left: 0 }}
        barCategoryGap="5%"
      >
        <CartesianGrid stroke="#ebebeb" />
        <XAxis
          dataKey="cat"
          hide={!showX}
          height={xh}
          padding={{ left: 2, right: 2 }}
          interval={0}
          axisLine={false}
          tickSize={3}
          tickMargin={2}
          tick={tickStyle(10)}
          tickLine={{ stroke: "#333" }}
        />
        <YAxis
          type="number"
          domain={dom}
          ticks={ticks}
          allowDataOverflow
          interval={0}
          width={yW}
          axisLine={false}
          tickSize={3}
          tickMargin={2}
          tick={tickStyle(10)}
          tickLine={{ stroke: "#333" }}
          tickFormatter={(v: number) => v.toFixed(dec)}
        />
        <Bar dataKey="v" isAnimationActive={false}>
          {rows.map((r, i) => (
            <Cell key={r.cat} fill={MUTED5[i]} />
          ))}
        </Bar>
      </BarChart>
    </div>
  );
};

const cClusters = [c05, c06, c09, c08, c07];
const cColors = [MUTED5[0], MUTED5[1], MUTED5[4], MUTED5[3], MUTED5[2]];
const dSeries = [d05, d06, d07, d08, d09];
const fSeries = [fCd69, fGrb7, fKi67, fDte, fPd1, fTcf7, fTim3];
const tcyNames = ["Tcy05", "Tcy06", "Tcy07", "Tcy08", "Tcy09"];
const padMargin = { top: PAD, right: PAD_R, bottom: 0, left: 0 };

const App = () => {
  const cLeft = 518, cTop = 472, cW = 235, cH = 256, cYW = 44, cXH = 20;
  const dLeft = 45, dTop = 812, dW = 200, dH = 203;
  const eLeft = 306, eTop = 813, eW = 200, eH = 206;
  const fLeft = 567, fTop = 812, fW = 205, fH = 206;
  const cLegendY = [660, 674, 688.5, 702.5, 717];
  const dLegendY = [837.5, 848.5, 859.5, 871, 882.5];
  return (
    <div style={{ position: "absolute", left: 0, top: 0, width: 776, height: 1052, background: "#fff", fontFamily: FONT, overflow: "hidden" }}>
      {/* ---- A ---- */}
      {aFacets.map((f, i) => {
        const col = i % 3;
        const row = Math.floor(i / 3);
        const left = aCols[col];
        const top = aRows[row] + A_STRIP;
        return (
          <React.Fragment key={f.name}>
            <DistPanel
              left={left}
              top={top}
              width={A_W}
              height={A_H}
              pts={f.pts}
              fit={f.fit}
              se={f.se}
              yDomain={f.dom as [number, number]}
              yTicks={f.ticks}
              dec={f.dec}
              xDomain={[-320, 320]}
              showX={row === 2}
              r={2.1}
              font={11}
              yWidth={34}
            />
            <Strip left={left} top={aRows[row]} width={A_W} height={A_STRIP + 1} label={f.name} />
            <Box left={left} top={top} width={A_W} height={A_H} border="#8a8a8a" />
          </React.Fragment>
        );
      })}
      <Txt x={11} y={11} size={21} bold>A</Txt>
      <Txt x={16} y={206} size={17} rotate>Estimated probability (%)</Txt>
      <Txt x={398} y={422} size={17}>Distance to tumor edge (μm)</Txt>

      {/* ---- B ---- */}
      {bFacets.map((f, i) => {
        const col = i % 3;
        const row = Math.floor(i / 3);
        const left = bCols[col];
        const top = bRows[row] + B_STRIP;
        return (
          <React.Fragment key={f.name}>
            <BarPanel left={left} top={top} values={f.values} dom={f.dom} ticks={f.ticks} dec={f.dec} showX={row === 1} />
            <Strip left={left} top={bRows[row]} width={B_W} height={B_STRIP + 1} label={f.name} />
            <Box left={left} top={top} width={B_W} height={B_H} border="#b0b0b0" />
          </React.Fragment>
        );
      })}
      <Txt x={10} y={475} size={21} bold>B</Txt>
      <Txt x={10} y={618} size={16} rotate>Average marker expression</Txt>

      {/* ---- C ---- */}
      <div style={{ position: "absolute", left: cLeft - cYW, top: cTop - PAD }}>
        <ComposedChart width={cW + cYW + PAD_R} height={cH + cXH + PAD} margin={padMargin}>
          <CartesianGrid stroke="#e6e6e6" />
          {[-0.0125, 0.0125, 0.0375, 0.0625].map((v) => (
            <ReferenceLine key={"cx" + v} x={v} stroke="#f3f3f3" />
          ))}
          {[-0.0625, -0.0375, -0.0125, 0.0125, 0.0375].map((v) => (
            <ReferenceLine key={"cy" + v} y={v} stroke="#f3f3f3" />
          ))}
          <XAxis
            type="number"
            dataKey="x"
            domain={[-0.0272, 0.078]}
            ticks={[-0.025, 0, 0.025, 0.05, 0.075]}
            allowDataOverflow
            interval={0}
            height={cXH}
            axisLine={false}
            tickSize={3}
            tickMargin={2}
            tick={tickStyle(11)}
            tickLine={{ stroke: "#333" }}
            tickFormatter={(v: number) => v.toFixed(3)}
          />
          <YAxis
            type="number"
            domain={[-0.0772, 0.0447]}
            ticks={[-0.075, -0.05, -0.025, 0, 0.025]}
            allowDataOverflow
            interval={0}
            width={cYW}
            axisLine={false}
            tickSize={3}
            tickMargin={2}
            tick={tickStyle(11)}
            tickLine={{ stroke: "#333" }}
            tickFormatter={(v: number) => v.toFixed(3)}
          />
          {cClusters.map((c, i) => (
            <Scatter key={"c" + i} data={toXY(c)} dataKey="y" shape={dot(2.1, cColors[i])} isAnimationActive={false} />
          ))}
          <Line data={toXY(cTail)} dataKey="y" type="linear" stroke="#b5b5b5" strokeWidth={4.5} dot={false} isAnimationActive={false} zIndex={900} />
          <Line data={toXY(cCurve)} dataKey="y" type="monotone" stroke="#000" strokeWidth={4.5} strokeLinecap="round" dot={false} isAnimationActive={false} zIndex={900} />
        </ComposedChart>
      </div>
      <Box left={cLeft} top={cTop} width={cW} height={cH} border="#b0b0b0" />
      <div style={{ position: "absolute", left: 688, top: 630, width: 64, height: 96, background: "rgba(255,255,255,0.75)" }} />
      <Txt x={462} y={475} size={21} bold>C</Txt>
      <Txt x={463} y={600} size={17} rotate>DC2</Txt>
      <Txt x={636} y={755} size={17}>DC1</Txt>
      <Txt x={692} y={640} size={13} start>tcy.profile</Txt>
      {tcyNames.map((n, i) => (
        <React.Fragment key={n}>
          <div style={{ position: "absolute", left: 694.5, top: cLegendY[i] - 2.5, width: 5, height: 5, borderRadius: 3, background: MUTED5[i] }} />
          <Txt x={712} y={cLegendY[i]} size={12} start>{n}</Txt>
        </React.Fragment>
      ))}

      {/* ---- D ---- */}
      <div style={{ position: "absolute", left: dLeft - 25, top: dTop - PAD }}>
        <ComposedChart width={dW + 25 + PAD_R} height={dH + 20 + PAD} margin={padMargin}>
          <CartesianGrid stroke="#e8e8e8" />
          {[-1.5, -0.5, 0.5, 1.5].map((v) => (
            <ReferenceLine key={"dx" + v} x={v} stroke="#f4f4f4" />
          ))}
          {[0.5, 1.5, 2.5, 3.5].map((v) => (
            <ReferenceLine key={"dy" + v} y={v} stroke="#f4f4f4" />
          ))}
          <XAxis
            type="number"
            dataKey="x"
            domain={[-2.04, 2.16]}
            ticks={[-2, -1, 0, 1, 2]}
            allowDataOverflow
            interval={0}
            height={20}
            axisLine={false}
            tickSize={3}
            tickMargin={3}
            tick={tickStyle(11)}
            tickLine={{ stroke: "#333" }}
          />
          <YAxis
            type="number"
            domain={[-0.16, 3.64]}
            ticks={[0, 1, 2, 3]}
            allowDataOverflow
            interval={0}
            width={25}
            axisLine={false}
            tickSize={3}
            tickMargin={2}
            tick={tickStyle(11)}
            tickLine={{ stroke: "#333" }}
          />
          {dSeries.map((s, i) => (
            <Line key={"d" + i} data={toXY(s)} dataKey="y" type="monotone" stroke={HUE5[i]} strokeOpacity={0.85} strokeWidth={1.1} dot={false} isAnimationActive={false} />
          ))}
        </ComposedChart>
      </div>
      <Box left={dLeft} top={dTop} width={dW} height={dH} border="#b0b0b0" />
      <Txt x={11} y={813} size={21} bold>D</Txt>
      <Txt x={11} y={913} size={13.5} rotate>Cell density</Txt>
      <Txt x={145} y={1041} size={13.5}>Normalized pseudotime</Txt>
      <Txt x={47} y={822} size={11} start>tcy.profile</Txt>
      {tcyNames.map((n, i) => (
        <React.Fragment key={"dl" + n}>
          <div style={{ position: "absolute", left: 47, top: dLegendY[i] - 5, width: 10, height: 10, boxSizing: "border-box", border: `1px solid ${HUE5[i]}`, opacity: 0.7, background: "#fff" }} />
          <Txt x={62} y={dLegendY[i]} size={10} start>{n}</Txt>
        </React.Fragment>
      ))}

      {/* ---- E ---- */}
      <DistPanel
        left={eLeft}
        top={eTop}
        width={eW}
        height={eH}
        pts={ePoints}
        fit={eFit}
        se={eSe}
        yDomain={[-0.582, 0.96]}
        yTicks={[-0.5, 0, 0.5]}
        dec={1}
        xDomain={[-314, 318]}
        showX
        r={1.7}
        font={10.5}
        yWidth={30}
        dashed={eDashed}
      />
      <Box left={eLeft} top={eTop} width={eW} height={eH} border="#8a8a8a" />
      <Txt x={275} y={813} size={21} bold>E</Txt>
      <Txt x={271} y={917} size={12} rotate>Average normalized pseudotime</Txt>
      <Txt x={405} y={1043} size={12}>Distance to tumor edge (μm)</Txt>

      {/* ---- F ---- */}
      <div style={{ position: "absolute", left: fLeft - 20, top: fTop - PAD }}>
        <ComposedChart width={fW + 20 + PAD_R} height={fH + 20 + PAD} margin={padMargin}>
          <CartesianGrid stroke="#e8e8e8" />
          {[-1.5, -0.5, 0.5, 1.5].map((v) => (
            <ReferenceLine key={"fx" + v} x={v} stroke="#f4f4f4" />
          ))}
          {[-0.5, 0.5, 1.5].map((v) => (
            <ReferenceLine key={"fy" + v} y={v} stroke="#f4f4f4" />
          ))}
          <XAxis
            type="number"
            dataKey="x"
            domain={[-2.18, 2.13]}
            ticks={[-2, -1, 0, 1, 2]}
            allowDataOverflow
            interval={0}
            height={20}
            axisLine={false}
            tickSize={3}
            tickMargin={3}
            tick={tickStyle(10.5)}
            tickLine={{ stroke: "#333" }}
          />
          <YAxis
            type="number"
            domain={[-1.335, 2.2]}
            ticks={[-1, 0, 1, 2]}
            allowDataOverflow
            interval={0}
            width={20}
            axisLine={false}
            tickSize={3}
            tickMargin={2}
            tick={tickStyle(10.5)}
            tickLine={{ stroke: "#333" }}
          />
          {fSeries.map((s, i) => (
            <Area key={"fa" + i} data={toBand(s)} dataKey="band" type="monotone" stroke="none" fill="#a0a0a0" fillOpacity={0.35} isAnimationActive={false} />
          ))}
          {fSeries.map((s, i) => (
            <Line key={"fl" + i} data={toBand(s)} dataKey="y" type="monotone" stroke={markerColors[i]} strokeWidth={1.6} dot={false} isAnimationActive={false} />
          ))}
        </ComposedChart>
      </div>
      <Box left={fLeft} top={fTop} width={fW} height={fH} border="#b0b0b0" />
      <div style={{ position: "absolute", left: 575, top: 821, width: 106, height: 101, background: "rgba(255,255,255,0.6)" }} />
      <Txt x={580} y={831} size={11} start>Marker</Txt>
      {markerNames.map((n, i) => {
        const cy = 847.3 + i * 11.2;
        return (
          <React.Fragment key={"fk" + n}>
            <div style={{ position: "absolute", left: 580, top: cy - 5.6, width: 12, height: 11.2, background: "#cfcfcf" }} />
            <div style={{ position: "absolute", left: 580, top: cy - 0.8, width: 12, height: 1.6, background: markerColors[i] }} />
            <Txt x={596} y={cy} size={10} start>{n}</Txt>
          </React.Fragment>
        );
      })}
      <Txt x={536} y={814} size={21} bold>F</Txt>
      <Txt x={538} y={917} size={12.5} rotate>Average value</Txt>
      <Txt x={671} y={1043} size={12}>Normalized pseudotime</Txt>
    </div>
  );
};

export default App;
